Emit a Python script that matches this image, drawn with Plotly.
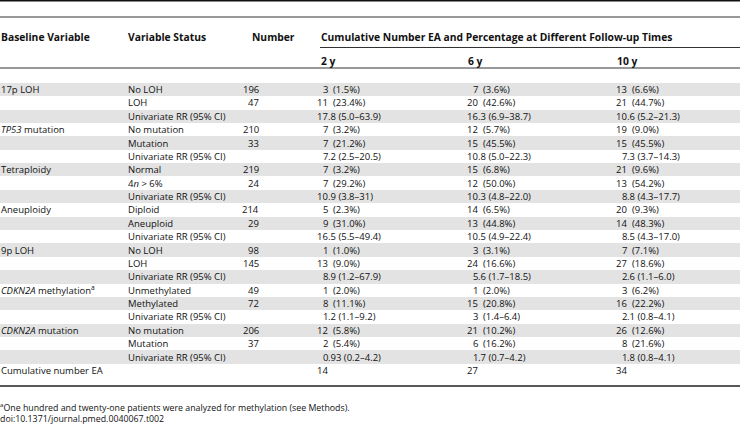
import re
import plotly.graph_objects as go

# ---------------- data ----------------
baseline = ["17p LOH", "", "", "<i>TP53</i> mutation", "", "", "Tetraploidy", "", "",
            "Aneuploidy", "", "", "9p LOH", "", "", "<i>CDKN2A</i> methylation<sup>a</sup>", "", "",
            "<i>CDKN2A</i> mutation", "", "", "Cumulative number EA"]
RR = "Univariate RR (95% CI)"
status = ["No LOH", "LOH", RR, "No mutation", "Mutation", RR, "Normal", "4<i>n</i> &gt; 6%", RR,
          "Diploid", "Aneuploid", RR, "No LOH", "LOH", RR, "Unmethylated", "Methylated", RR,
          "No mutation", "Mutation", RR, ""]
number = ["196", "47", "", "210", "33", "", "219", "24", "", "214", "29", "", "98", "145", "",
          "49", "72", "", "206", "37", "", ""]
y2 = ["3 (1.5%)", "11 (23.4%)", "17.8 (5.0–63.9)", "7 (3.2%)", "7 (21.2%)", "7.2 (2.5–20.5)",
      "7 (3.2%)", "7 (29.2%)", "10.9 (3.8–31)", "5 (2.3%)", "9 (31.0%)", "16.5 (5.5–49.4)",
      "1 (1.0%)", "13 (9.0%)", "8.9 (1.2–67.9)", "1 (2.0%)", "8 (11.1%)", "1.2 (1.1–9.2)",
      "12 (5.8%)", "2 (5.4%)", "0.93 (0.2–4.2)", "14"]
y6 = ["7 (3.6%)", "20 (42.6%)", "16.3 (6.9–38.7)", "12 (5.7%)", "15 (45.5%)", "10.8 (5.0–22.3)",
      "15 (6.8%)", "12 (50.0%)", "10.3 (4.8–22.0)", "14 (6.5%)", "13 (44.8%)", "10.5 (4.9–22.4)",
      "3 (3.1%)", "24 (16.6%)", "5.6 (1.7–18.5)", "1 (2.0%)", "15 (20.8%)", "3 (1.4–6.4)",
      "21 (10.2%)", "6 (16.2%)", "1.7 (0.7–4.2)", "27"]
y10 = ["13 (6.6%)", "21 (44.7%)", "10.6 (5.2–21.3)", "19 (9.0%)", "15 (45.5%)", "7.3 (3.7–14.3)",
       "21 (9.6%)", "13 (54.2%)", "8.8 (4.3–17.7)", "20 (9.3%)", "14 (48.3%)", "8.5 (4.3–17.0)",
       "7 (7.1%)", "27 (18.6%)", "2.6 (1.1–6.0)", "3 (6.2%)", "16 (22.2%)", "2.1 (0.8–4.1)",
       "26 (12.6%)", "8 (21.6%)", "1.8 (0.8–4.1)", "34"]
headers = ["Baseline Variable", "Variable Status", "Number",
           "Cumulative Number EA and Percentage at Different Follow-up Times"]
subheaders = ["2 y", "6 y", "10 y"]
footnote = "<sup>a</sup>One hundred and twenty-one patients were analyzed for methylation (see Methods)."
doi = "doi:10.1371/journal.pmed.0040067.t002"

# ---------------- layout constants ----------------
W, H = 740, 425
FONT = "Open Sans"
FS = 9.5
FS_B = 10.3
FS_F = 8.8
TXT = "#111111"
ROW0, PITCH = 89.5, 13.38
row_y = [ROW0 + i * PITCH for i in range(len(status))]

X_BASE, X_STAT, X_NUM_R = 1, 128, 258.5
X_SUB = [321, 468, 617]
X_ALIGN = [327.5, 477.5, 626.5]

fig = go.Figure()

# shaded rows
shade_y = [row_y[i] for i in range(len(row_y)) if i % 2 == 0]
fig.add_trace(go.Bar(y=shade_y, x=[W] * len(shade_y), base=0, orientation="h",
                     width=PITCH, marker=dict(color="#e3e3e3", line=dict(width=0)),
                     hoverinfo="skip", showlegend=False))

ann = []


def add(text, x, y, anchor="left", bold=False, size=FS):
    if not text:
        return
    ann.append(dict(text=("<b>%s</b>" % text) if bold else text, x=x, y=y, xref="x", yref="y",
                    xanchor=anchor, yanchor="middle", showarrow=False, borderpad=0,
                    borderwidth=0, font=dict(family=FONT, size=size, color=TXT)))


# headers
add(headers[0], X_BASE, 37, bold=True, size=FS_B)
add(headers[1], X_STAT, 37, bold=True, size=FS_B)
add(headers[2], 252, 37, bold=True, size=FS_B)
add(headers[3], X_SUB[0], 37, bold=True, size=FS_B)
for s, x in zip(subheaders, X_SUB):
    add(s, x, 60.5, bold=True, size=FS_B)

# body
pat = re.compile(r"^(\d+)(\.\d+)?\s*(.*)$")
for i, y in enumerate(row_y):
    add(baseline[i], X_BASE, y)
    add(status[i], X_STAT, y)
    add(number[i], X_NUM_R, y, anchor="right")
    for col, xa in zip((y2, y6, y10), X_ALIGN):
        m = pat.match(col[i])
        lead, frac, rest = m.group(1), m.group(2) or "", m.group(3)
        add(lead, xa, y, anchor="right")
        if frac:
            add(frac + " " + rest, xa, y)
        elif rest:
            add(rest, xa + 5, y)

add(footnote, 0, 406.5, size=FS_F)
add(doi, 0, 418.5, size=FS_F)

# rules
shapes = [
    dict(type="line", xref="x", yref="y", x0=0, x1=W, y0=0.8, y1=0.8, line=dict(color="#111", width=1.6)),
    dict(type="line", xref="x", yref="y", x0=0, x1=W, y0=17, y1=17, line=dict(color="#333", width=1)),
    dict(type="line", xref="x", yref="y", x0=X_SUB[0] - 1, x1=W, y0=47.5, y1=47.5, line=dict(color="#333", width=1)),
    dict(type="line", xref="x", yref="y", x0=0, x1=W, y0=68, y1=68, line=dict(color="#333", width=1)),
    dict(type="line", xref="x", yref="y", x0=0, x1=W, y0=386, y1=386, line=dict(color="#222", width=1.6)),
]

fig.update_layout(
    width=W, height=H, margin=dict(l=0, r=0, t=0, b=0),
    paper_bgcolor="white", plot_bgcolor="white",
    xaxis=dict(range=[0, W], visible=False, fixedrange=True),
    yaxis=dict(range=[H, 0], visible=False, fixedrange=True),
    annotations=ann, shapes=shapes, bargap=0, showlegend=False,
)

fig.write_html("out.html", config={"displayModeBar": False},
               post_script="document.body.style.margin='0';document.body.style.overflow='hidden';")
